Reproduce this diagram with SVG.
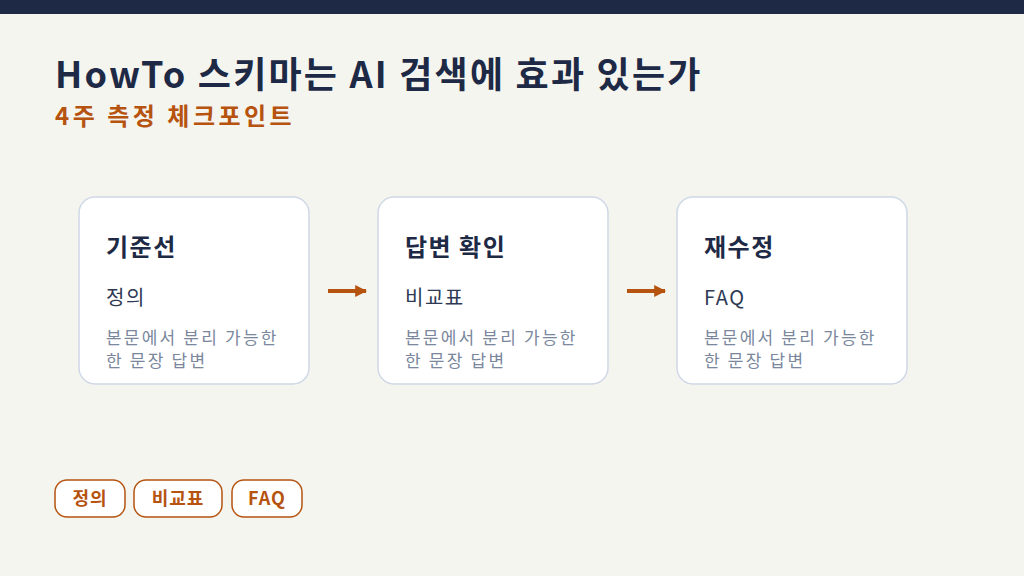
<svg xmlns="http://www.w3.org/2000/svg" width="1024" height="576" viewBox="0 0 1024 576">
<style>
text{font-family:"Noto Sans CJK KR","Noto Sans",sans-serif}
.card{fill:#fff;stroke:#cfd8e6;stroke-width:1.5}
.t{font-size:24px;font-weight:700;fill:#1e2a45;letter-spacing:1.5px}
.s{font-size:20px;fill:#2e3a55;letter-spacing:1.5px}
.d{font-size:17px;fill:#7a879c;letter-spacing:2.2px}
.tag{fill:#fff;stroke:#b5530f;stroke-width:1.5}
.tt{font-size:18px;font-weight:700;fill:#b5530f;text-anchor:middle;letter-spacing:1px}
</style>
<defs><marker id="ah" viewBox="0 0 10 10" refX="9" refY="5" markerWidth="3" markerHeight="6" markerUnits="strokeWidth" orient="auto"><path d="M0,0L10,5L0,10z" fill="#b5530f"/></marker></defs>
<rect width="1024" height="576" fill="#f5f5f0"/>
<rect width="1024" height="14" fill="#1e2a45"/>
<text x="55" y="88" font-size="36" font-weight="700" fill="#1e2a45" letter-spacing="2.2">HowTo 스키마는 AI 검색에 효과 있는가</text>
<text x="55" y="125" font-size="24" font-weight="700" fill="#b5530f" letter-spacing="3.5">4주 측정 체크포인트</text>
<g id="n1"><rect class="card" x="79" y="197" width="230" height="187" rx="16"/><text class="t" x="106" y="256">기준선</text><text class="s" x="106" y="305">정의</text><text class="d" x="106" y="344">본문에서 분리 가능한</text><text class="d" x="106" y="367">한 문장 답변</text></g>
<g id="n2"><rect class="card" x="378" y="197" width="230" height="187" rx="16"/><text class="t" x="405" y="256">답변 확인</text><text class="s" x="405" y="305">비교표</text><text class="d" x="405" y="344">본문에서 분리 가능한</text><text class="d" x="405" y="367">한 문장 답변</text></g>
<g id="n3"><rect class="card" x="677" y="197" width="230" height="187" rx="16"/><text class="t" x="704" y="256">재수정</text><text class="s" x="704" y="305">FAQ</text><text class="d" x="704" y="344">본문에서 분리 가능한</text><text class="d" x="704" y="367">한 문장 답변</text></g>
<g id="connectors" stroke="#b5530f" stroke-width="4" fill="none"><line x1="328" y1="291" x2="366" y2="291" marker-end="url(#ah)"/><line x1="627" y1="291" x2="665" y2="291" marker-end="url(#ah)"/></g>
<g id="tag1"><rect class="tag" x="55" y="480" width="70" height="37" rx="12"/><text class="tt" x="90" y="505">정의</text></g>
<g id="tag2"><rect class="tag" x="134" y="480" width="88" height="37" rx="12"/><text class="tt" x="178" y="505">비교표</text></g>
<g id="tag3"><rect class="tag" x="232" y="480" width="70" height="37" rx="12"/><text class="tt" x="267" y="505">FAQ</text></g>
</svg>
